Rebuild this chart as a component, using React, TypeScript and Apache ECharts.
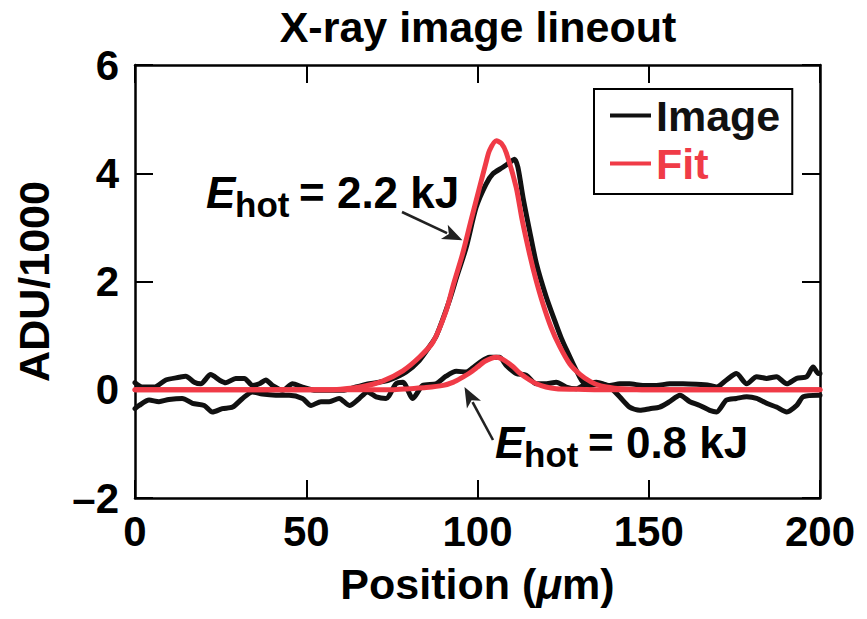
import React, { useEffect, useRef } from 'react';
import * as echarts from 'echarts';

const FONT = '"Liberation Sans", Arial, Helvetica, sans-serif';
const INK = '#111111';
const RED = '#f03b47';

// Measured lineout of the brighter spot (position µm, ADU/1000)
const imageHot: [number, number][] = [
  [0, 0.13], [2.1, 0.05], [5.6, 0.05], [9, 0.18], [12.9, 0.23], [14.8, 0.25], [17.3, 0.14],
  [19.2, 0.11], [22.1, 0.28], [24.6, 0.18], [26.5, 0.13], [29.4, 0.21], [31.9, 0.21], [34.3, 0.08],
  [36.3, 0.11], [38.2, 0.18], [40.1, 0.08], [43.1, -0.01], [46, 0.11], [48.9, 0.05], [52.8, -0.01],
  [56.7, -0.01], [60.6, -0.01], [64.5, 0.05], [68.4, 0.11], [71.3, 0.14], [74.3, 0.18], [79.2, 0.33],
  [83, 0.54], [86, 0.8], [88, 1.0], [91.8, 1.65], [94, 2.1], [96.7, 2.63], [99.6, 3.37], [102.5, 3.8],
  [104.5, 3.99], [107.4, 4.11], [109.4, 4.2], [110.8, 4.26], [111.8, 4.11], [113.3, 3.55], [115.2, 2.94],
  [117.2, 2.33], [120.1, 1.71], [123, 1.2], [124.5, 0.95], [125.9, 0.75], [127.9, 0.48], [129.8, 0.24],
  [130.8, 0.14], [132.7, 0.08], [135.7, 0.11], [138.6, 0.05], [141.5, -0.13], [144.4, -0.32],
  [147.4, -0.38], [150.3, -0.35], [153.2, -0.32], [156.1, -0.22], [159.1, -0.1], [162, -0.22],
  [164.9, -0.29], [167.8, -0.38], [169.8, -0.41], [172.7, -0.19], [175.6, -0.16], [178.6, -0.13],
  [181.5, -0.16], [184.4, -0.25], [187.3, -0.32], [190.3, -0.41], [193.2, -0.29], [195.1, -0.13],
  [199.5, -0.1], [200, -0.1],
];

// Measured lineout of the fainter spot
const imageCold: [number, number][] = [
  [0, -0.35], [1.2, -0.29], [4.1, -0.19], [7, -0.22], [9.9, -0.18], [13.8, -0.16], [16.8, -0.25],
  [20.2, -0.29], [22.6, -0.41], [25.5, -0.35], [28.5, -0.32], [31.4, -0.16], [34.3, -0.04],
  [37.2, -0.08], [41.1, -0.1], [45, -0.1], [48.9, -0.16], [51.4, -0.29], [54.3, -0.22], [56.7, -0.22],
  [59.6, -0.16], [62.6, -0.29], [65.5, -0.16], [67.9, -0.04], [70.4, -0.13], [73.3, -0.16],
  [76.2, 0.11], [78.2, 0.14], [81.1, -0.16], [84, 0.08], [87.9, 0.11], [90.8, 0.25], [93.8, 0.34],
  [96.7, 0.33], [98.5, 0.4], [100.6, 0.5], [103.5, 0.6], [106.4, 0.6], [108.4, 0.45], [111.3, 0.3],
  [114.2, 0.27], [117.2, 0.11], [120.1, 0.11], [123, 0.14], [125.9, 0.05], [128.9, 0.02],
  [131.8, 0.11], [134.7, 0.14], [138.6, 0.08], [141.5, 0.11], [144.4, 0.11], [148.3, 0.08],
  [152.2, 0.08], [156.1, 0.11], [160, 0.11], [163.9, 0.1], [167.8, 0.08], [169.8, 0.05],
  [172.7, 0.18], [175.6, 0.3], [178.6, 0.11], [181.5, 0.24], [184.4, 0.21], [187.3, 0.24],
  [190.3, 0.11], [193.2, 0.21], [196.1, 0.24], [198, 0.42], [199.5, 0.3], [200, 0.3],
];

// Fitted profile, 2.2 kJ
const fitHot: [number, number][] = [
  [0, 0], [20, 0], [40, 0], [55, 0], [60, 0.01], [66.5, 0.06], [72.3, 0.16], [78.2, 0.35],
  [83, 0.6], [87, 0.88], [90.8, 1.45], [93, 1.95], [95.6, 2.5], [98, 3.1], [100.6, 3.74],
  [102.5, 4.2], [103.5, 4.42], [105.5, 4.6], [107, 4.55], [108.4, 4.38], [111.3, 3.74], [113, 3.15],
  [115.2, 2.51], [117, 2.05], [119.1, 1.59], [121.5, 1.15], [124, 0.8], [127, 0.47], [130, 0.28],
  [133, 0.15], [136, 0.07], [140, 0.03], [145, 0.01], [150, 0], [175, 0], [200, 0],
];

// Fitted profile, 0.8 kJ
const fitCold: [number, number][] = [
  [0, 0], [50, 0], [75, 0], [80, 0.02], [85, 0.04], [90, 0.08], [93, 0.14], [95.6, 0.23],
  [97.7, 0.31], [100, 0.42], [102, 0.52], [104, 0.58], [105.5, 0.6], [107.4, 0.56], [110.3, 0.43],
  [112.3, 0.31], [115.2, 0.18], [117.2, 0.11], [120, 0.05], [123, 0.02], [128, 0.01], [135, 0],
  [200, 0],
];

// Where each annotation arrow points (data coordinates)
const hotArrowTip: [number, number] = [95.6, 2.76];
const coldArrowTip: [number, number] = [96.2, 0.05];
const hotLabel = '= 2.2 kJ';
const coldLabel = '= 0.8 kJ';

const axisLineStyle = { color: '#000', width: 2.5 };
const tickStyle = { inside: true, length: 18, lineStyle: { color: '#000', width: 2 } };
const labelFont = { fontSize: 42, fontWeight: 'bold' as const, fontFamily: FONT, color: '#000' };

function lineSeries(name: string, data: [number, number][], color: string, width: number, z: number) {
  return {
    type: 'line',
    name,
    data,
    symbol: 'none',
    smooth: 0.25,
    color,
    lineStyle: { color, width, cap: 'round', join: 'round' },
    itemStyle: { color },
    z,
  };
}

function arrow(tail: [number, number], tip: number[]) {
  const dx = tip[0] - tail[0];
  const dy = tip[1] - tail[1];
  const len = Math.hypot(dx, dy);
  const ux = dx / len;
  const uy = dy / len;
  const headLen = 20;
  const headHalf = 8;
  const bx = tip[0] - ux * headLen;
  const by = tip[1] - uy * headLen;
  return [
    {
      type: 'line',
      shape: { x1: tail[0], y1: tail[1], x2: bx + ux * 3, y2: by + uy * 3 },
      style: { stroke: '#222', lineWidth: 2.6 },
      z: 20,
    },
    {
      type: 'polygon',
      shape: {
        points: [
          [tip[0], tip[1]],
          [bx - uy * headHalf, by + ux * headHalf],
          [bx + ux * 5, by + uy * 5],
          [bx + uy * headHalf, by - ux * headHalf],
        ],
      },
      style: { fill: '#222' },
      z: 20,
    },
  ];
}

function energyLabel(x: number, baseline: number, value: string) {
  const big = 44;
  const small = 35;
  return [
    {
      type: 'text',
      style: {
        text: 'E', x, y: baseline - 0.35 * big, verticalAlign: 'middle',
        font: `italic bold ${big}px ${FONT}`, fill: '#000',
      },
      z: 20,
    },
    {
      type: 'text',
      style: {
        text: 'hot', x: x + 29, y: baseline + 9 - 0.35 * small, verticalAlign: 'middle',
        font: `bold ${small}px ${FONT}`, fill: '#000',
      },
      z: 20,
    },
    {
      type: 'text',
      style: {
        text: value, x: x + 93, y: baseline - 0.35 * big, verticalAlign: 'middle',
        font: `bold ${big}px ${FONT}`, fill: '#000',
      },
      z: 20,
    },
  ];
}

export default function App() {
  const ref = useRef<HTMLDivElement>(null);

  useEffect(() => {
    document.body.style.margin = '0';
    if (!ref.current) return;
    const chart = echarts.init(ref.current, null, { renderer: 'svg' });

    const option: any = {
      animation: false,
      backgroundColor: '#fff',
      grid: { left: 135, right: 47, top: 65, bottom: 121, containLabel: false },
      legend: {
        orient: 'vertical',
        left: 594,
        top: 89,
        padding: [5, 12, 9, 16],
        itemGap: 5,
        itemWidth: 41,
        itemHeight: 4,
        icon: 'rect',
        borderColor: '#000',
        borderWidth: 2,
        borderRadius: 0,
        textStyle: { ...labelFont, fontSize: 43 },
        data: [
          { name: 'Image', textStyle: { color: INK } },
          { name: 'Fit', textStyle: { color: RED } },
        ],
      },
      xAxis: [
        {
          type: 'value', min: 0, max: 200, interval: 50, position: 'bottom',
          axisLine: { show: true, onZero: false, lineStyle: axisLineStyle },
          axisTick: tickStyle,
          axisLabel: { ...labelFont, margin: 12 },
          splitLine: { show: false },
          name: '{a|Position (}{b|μ}{a|m)}',
          nameLocation: 'middle',
          nameGap: 64,
          nameTextStyle: {
            rich: {
              a: { ...labelFont, fontSize: 43 },
              b: { ...labelFont, fontSize: 43, fontStyle: 'italic' },
            },
          },
        },
        {
          type: 'value', min: 0, max: 200, interval: 50, position: 'top',
          axisLine: { show: true, onZero: false, lineStyle: axisLineStyle },
          axisTick: tickStyle,
          axisLabel: { show: false },
          splitLine: { show: false },
        },
      ],
      yAxis: [
        {
          type: 'value', min: -2, max: 6, interval: 2, position: 'left',
          axisLine: { show: true, onZero: false, lineStyle: axisLineStyle },
          axisTick: tickStyle,
          axisLabel: {
            ...labelFont,
            margin: 16,
            formatter: (v: number) => (v < 0 ? '–' + Math.abs(v) : String(v)),
          },
          splitLine: { show: false },
          name: 'ADU/1000',
          nameLocation: 'middle',
          nameGap: 80,
          nameRotate: 90,
          nameTextStyle: { ...labelFont, fontSize: 43 },
        },
        {
          type: 'value', min: -2, max: 6, interval: 2, position: 'right',
          axisLine: { show: true, onZero: false, lineStyle: axisLineStyle },
          axisTick: tickStyle,
          axisLabel: { show: false },
          splitLine: { show: false },
        },
      ],
      series: [
        lineSeries('Image', imageCold, INK, 5, 2),
        lineSeries('Image', imageHot, INK, 5, 3),
        lineSeries('Fit', fitCold, RED, 5, 4),
        lineSeries('Fit', fitHot, RED, 5, 5),
      ],
    };
    chart.setOption(option);

    const hotTip = chart.convertToPixel({ seriesIndex: 0 }, hotArrowTip) as number[];
    const coldTip = chart.convertToPixel({ seriesIndex: 0 }, coldArrowTip) as number[];

    chart.setOption({
      graphic: [
        {
          type: 'text',
          style: {
            text: 'X-ray image lineout', x: 478, y: 27, align: 'center', verticalAlign: 'middle',
            font: `bold 43px ${FONT}`, fill: '#000',
          },
        },
        ...energyLabel(206, 208, hotLabel),
        ...energyLabel(495, 458, coldLabel),
        ...arrow([402, 212], hotTip),
        ...arrow([493, 440], coldTip),
      ],
    });

    return () => chart.dispose();
  }, []);

  return <div ref={ref} style={{ width: 867, height: 619 }} />;
}
